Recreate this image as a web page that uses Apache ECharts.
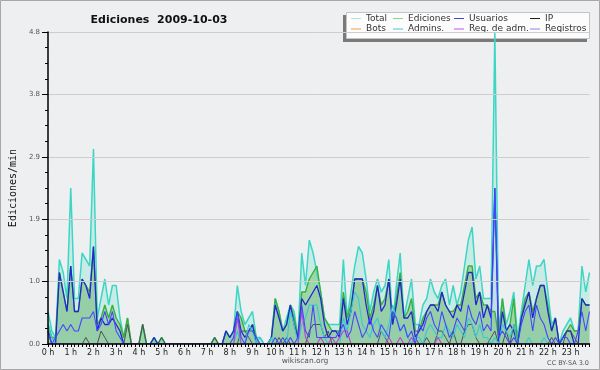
<!DOCTYPE html>
<html><head><meta charset="utf-8">
<script src="https://cdn.jsdelivr.net/npm/echarts@6/dist/echarts.min.js"></script>
<style>html,body{margin:0;padding:0;background:#eeeff0}#c{width:600px;height:370px}</style>
</head><body><div id="c"></div>
<script>
// Tick labels
const hourLabels = ['0 h','1 h','2 h','3 h','4 h','5 h','6 h','7 h','8 h','9 h','10 h','11 h',
  '12 h','13 h','14 h','15 h','16 h','17 h','18 h','19 h','20 h','21 h','22 h','23 h'];
const minuteSlots = ['00','10','20','30','40','50'];
const yTicks = { min: 0, max: 4.8, step: 0.96 };

// Edits per minute, 10-minute slots (12 slots per row = 2 hours)
const total = [
  0.5,0.2,0.1,1.3,1.1,0.7,2.4,0.7,0.7,1.4,1.3,1.2,
  3.0,0.4,0.7,1.0,0.6,0.9,0.9,0.4,0.1,0.4,0,0,
  0,0.3,0,0,0.1,0,0.1,0,0,0,0,0,
  0,0,0,0,0,0,0,0,0.1,0,0,0.2,
  0.1,0.2,0.9,0.5,0.3,0.4,0.5,0.1,0.1,0,0,0.1,
  0.7,0.5,0.2,0.4,0.6,0.5,0.1,1.4,0.9,1.6,1.4,1.1,
  0.8,0.4,0.3,0.3,0.3,0.3,1.3,0.4,0.8,1.2,1.5,1.4,
  1.0,0.5,0.8,1.0,0.8,0.9,1.3,0.3,0.9,1.4,0.4,0.7,
  1.0,0.3,0.3,0.6,0.7,1.0,0.8,0.7,0.9,1.0,0.6,0.9,
  0.6,0.8,1.2,1.6,1.8,1.0,1.2,0.7,0.7,0.7,4.8,0.2,
  0.7,0.3,0.5,0.8,0.1,0.5,0.9,1.3,0.9,1.2,1.2,1.3,
  0.8,0.3,0.4,0,0.2,0.3,0.4,0.2,0.2,1.2,0.8,1.1];
const ediciones = [
  0.3,0.1,0.1,1.1,0.8,0.5,1.2,0.5,0.5,1.0,0.9,0.8,
  1.5,0.3,0.4,0.6,0.4,0.6,0.4,0.3,0.1,0.4,0,0,
  0,0.3,0,0,0.1,0,0.1,0,0,0,0,0,
  0,0,0,0,0,0,0,0,0.1,0,0,0.2,
  0.1,0.2,0.5,0.4,0.2,0.2,0.3,0.1,0,0,0,0.1,
  0.7,0.5,0.2,0.3,0.6,0.4,0.1,0.8,0.8,1.0,1.1,1.2,
  0.8,0.4,0.3,0.2,0.2,0.2,0.8,0.4,0.6,1.0,1.0,1.0,
  0.8,0.4,0.6,0.9,0.6,0.7,1.0,0.3,0.7,1.1,0.4,0.5,
  0.7,0.2,0.2,0.4,0.5,0.6,0.6,0.6,0.8,0.6,0.5,0.5,
  0.6,0.6,0.9,1.2,1.2,0.7,0.8,0.6,0.6,0.5,0.5,0.1,
  0.7,0.2,0.3,0.7,0,0.4,0.7,0.8,0.5,0.7,0.9,0.9,
  0.6,0.2,0.4,0,0.1,0.2,0.3,0.2,0.2,0.7,0.6,0.6];
const usuarios = [
  0.2,0,0,1.1,0.8,0.5,1.2,0.5,0.5,1.0,0.9,0.7,
  1.5,0.2,0.4,0.3,0.3,0.4,0.3,0.2,0,0,0,0,
  0,0,0,0,0.1,0,0,0,0,0,0,0,
  0,0,0,0,0,0,0,0,0,0,0,0.2,
  0.1,0.2,0.5,0.2,0.1,0.2,0.3,0,0,0,0,0.1,
  0.6,0.4,0.2,0.3,0.6,0.3,0.1,0.7,0.6,0.7,0.8,0.9,
  0.7,0.3,0.1,0.2,0.2,0.1,0.7,0.3,0.5,1.0,1.0,1.0,
  0.6,0.3,0.5,0.9,0.5,0.6,1.0,0.3,0.6,1.0,0.4,0.4,
  0.5,0.1,0.2,0.3,0.5,0.6,0.6,0.5,0.8,0.6,0.5,0.4,
  0.6,0.5,0.8,1.1,1.1,0.6,0.8,0.4,0.6,0.4,2.4,0,
  0.5,0.2,0.3,0.2,0,0.4,0.6,0.8,0.4,0.7,0.9,0.9,
  0.5,0.2,0.4,0,0.1,0.2,0.2,0,0,0.7,0.6,0.6];
const ip = [
  0,0,0,0,0,0,0,0,0,0,0.1,0,
  0,0,0.2,0.1,0,0,0,0,0,0.3,0,0,
  0,0.3,0,0,0,0,0.1,0,0,0,0,0,
  0,0,0,0,0,0,0,0,0.1,0,0,0,
  0,0,0,0.2,0.2,0.1,0,0,0,0,0,0,
  0,0.1,0,0.1,0,0,0,0,0,0.2,0.3,0.3,
  0.3,0.1,0.2,0,0,0,0,0,0,0,0,0,
  0,0,0,0,0.2,0.1,0,0,0,0,0,0,
  0,0.1,0,0,0.1,0,0,0.2,0.2,0.1,0,0.2,
  0,0,0.2,0.3,0.3,0.1,0,0,0,0.1,0.2,0,
  0,0.2,0,0.3,0,0,0,0,0,0,0,0,
  0,0.1,0,0,0,0.2,0.2,0.1,0,0,0,0];
const bots = [
  0,0,0,0,0,0,0,0,0,0,0,0, 0,0,0,0,0,0,0,0,0,0,0,0,
  0,0,0,0,0,0,0,0,0,0,0,0, 0,0,0,0,0,0,0,0,0,0,0,0,
  0,0,0,0,0,0,0,0,0,0,0,0, 0,0,0,0,0,0,0,0,0,0,0,0,
  0,0,0,0,0,0,0,0,0,0,0,0, 0,0,0,0,0,0,0,0,0,0,0,0,
  0,0,0,0,0,0,0,0,0,0,0,0, 0,0,0,0,0,0,0,0,0,0,0,0,
  0,0,0,0,0,0,0,0,0,0,0,0, 0,0,0,0,0,0,0,0,0,0,0,0];
const admins = [
  0.3,0.1,0,0,0,0,0,0,0,0,0,0,
  0,0,0,0,0,0,0,0,0,0,0,0,
  0,0,0,0,0,0,0,0,0,0,0,0,
  0,0,0,0,0,0,0,0,0,0,0,0,
  0,0,0.2,0,0,0.3,0.2,0,0.1,0,0,0.1,
  0,0,0,0,0.5,0.3,0,0.3,0.4,0.6,0.6,0.6,
  0.3,0.1,0,0,0,0,0.4,0.2,0.5,0.8,0.7,0.3,
  0.2,0.1,0.3,0.4,0.2,0.1,0.3,0.6,0.4,0.2,0.3,0.1,
  0,0.1,0.1,0,0.2,0.3,0.2,0.1,0.1,0.3,0.2,0.1,
  0.3,0.2,0.1,0.4,0.3,0.1,0.3,0.1,0.1,0,0.1,0,
  0.3,0.2,0.1,0.3,0,0,0,0.1,0,0,0,0.1,
  0,0,0,0,0,0,0,0,0,0,0,0];
const regAdm = [
  0,0,0,0,0,0,0,0,0,0,0,0, 0,0,0,0,0,0,0,0,0,0,0,0,
  0,0,0,0,0,0,0,0,0,0,0,0, 0,0,0,0,0,0,0,0,0,0,0,0,
  0,0,0.4,0,0,0,0,0,0,0,0,0,
  0,0,0,0,0,0,0,0.5,0.1,0,0,0,
  0.1,0,0,0.1,0,0.1,0.2,0.2,0,0,0,0,
  0,0,0,0,0,0,0.1,0,0,0.1,0,0,
  0.1,0,0,0,0,0,0,0.1,0,0,0,0,
  0,0,0,0,0,0,0,0,0,0,0,0,
  0,0,0,0,0,0,0,0,0,0,0,0,
  0,0,0,0,0,0,0,0,0,0,0,0];
const registros = [
  0.2,0,0.1,0.2,0.3,0.2,0.3,0.2,0.2,0.4,0.4,0.4,
  0.5,0.2,0.3,0.5,0.3,0.5,0.2,0.1,0,0,0,0,
  0,0,0,0,0,0,0,0,0,0,0,0,
  0,0,0,0,0,0,0,0,0,0,0,0,
  0,0.1,0.5,0.1,0,0.2,0.2,0.1,0,0,0,0,
  0.1,0,0.1,0,0.1,0,0.1,0.6,0.2,0.1,0.6,0.1,
  0.1,0.1,0.1,0.1,0.1,0.2,0.3,0.1,0.2,0.5,0.3,0.1,
  0.2,0.4,0.2,0.1,0.3,0.2,0.1,0.5,0.4,0.2,0.3,0.1,
  0.2,0,0.3,0.2,0.4,0.5,0.3,0.2,0.5,0.3,0.1,0.2,
  0.4,0.3,0.2,0.6,0.4,0.3,0.5,0.2,0.3,0.2,2.4,0.1,
  0.2,0.1,0,0.1,0,0.3,0.5,0.6,0.2,0.6,0.4,0.3,
  0.1,0,0.1,0,0.1,0.1,0,0,0.2,0.5,0.2,0.5];

const times = [];
hourLabels.forEach((h, hi) => minuteSlots.forEach(m => times.push(hi + ':' + m)));

const FONT = 'DejaVu Sans';
const seriesDefs = [
  { name: 'Total', data: total, color: '#3cd6c6', area: 'rgba(172,232,220,0.55)', w: 1.5 },
  { name: 'Ediciones', data: ediciones, color: '#3cae3c', area: 'rgba(118,198,118,0.55)', w: 1.4 },
  { name: 'Usuarios', data: usuarios, color: '#2424d4', area: 'rgba(90,120,160,0.08)', w: 1.3 },
  { name: 'IP', data: ip, color: '#505050', w: 1.0 },
  { name: 'Bots', data: bots, color: '#f0a030', w: 1.0 },
  { name: 'Admins.', data: admins, color: '#34c8dc', w: 1.1 },
  { name: 'Reg. de adm.', data: regAdm, color: '#c040d0', w: 1.1 },
  { name: 'Registros', data: registros, color: '#4646ff', w: 1.1 }
];
const legendColors = {
  'Total': '#aee6e2', 'Ediciones': '#8fd28f', 'Usuarios': '#4242dc', 'IP': '#222222',
  'Bots': '#f2a040', 'Admins.': '#44c6da', 'Reg. de adm.': '#cc50dc', 'Registros': '#8686ee'
};
const legendCols = [
  { x: 351, names: ['Total', 'Bots'] },
  { x: 393, names: ['Ediciones', 'Admins.'] },
  { x: 454, names: ['Usuarios', 'Reg. de adm.'] },
  { x: 530, names: ['IP', 'Registros'] }
];

const chart = echarts.init(document.getElementById('c'));
chart.setOption({
  backgroundColor: '#eeeff0',
  animation: false,
  title: {
    text: 'Ediciones  2009-10-03', left: 154, top: 10, textAlign: 'center',
    textStyle: { fontFamily: FONT, fontSize: 11, fontWeight: 'bold', color: '#111' }
  },
  legend: legendCols.map(col => ({
    orient: 'vertical', left: col.x, top: 13.5, padding: 0, itemGap: 0.5,
    icon: 'rect', itemWidth: 10, itemHeight: 1, selectedMode: false, z: 6,
    textStyle: { fontFamily: FONT, fontSize: 9, color: '#333', lineHeight: 10 },
    data: col.names.map(n => ({ name: n, itemStyle: { color: legendColors[n] } }))
  })),
  grid: { left: 46, right: 10.5, top: 32, bottom: 26 },
  xAxis: {
    type: 'category', data: times, boundaryGap: false, z: 10,
    axisLine: { lineStyle: { color: '#000', width: 1.5 } },
    axisTick: { interval: 0, length: 3, lineStyle: { color: '#000' } },
    axisLabel: {
      interval: (i) => i % minuteSlots.length === 0,
      formatter: (v, i) => hourLabels[Math.floor(i / minuteSlots.length)],
      fontFamily: FONT, fontSize: 8, color: '#222', margin: 5
    },
    splitLine: { show: false }
  },
  yAxis: {
    type: 'value', min: yTicks.min, max: yTicks.max, interval: yTicks.step, z: 10,
    name: 'Ediciones/min', nameLocation: 'middle', nameGap: 30,
    nameTextStyle: { fontFamily: 'DejaVu Sans Mono', fontSize: 10, color: '#111' },
    axisLine: { show: true, lineStyle: { color: '#000', width: 1.5 } },
    axisTick: { show: true, length: 6, lineStyle: { color: '#000' } },
    minorTick: { show: true, splitNumber: 4, length: 3, lineStyle: { color: '#000' } },
    axisLabel: { formatter: v => v.toFixed(1), fontFamily: FONT, fontSize: 7, color: '#555', margin: 8 },
    splitLine: { lineStyle: { color: '#cdcdcd', width: 1 } }
  },
  graphic: [
    { type: 'rect', shape: { x: 0.5, y: 0.5, width: 599, height: 369 }, style: { fill: null, stroke: '#a8a8a8', lineWidth: 1 }, z: 20 },
    { type: 'rect', shape: { x: 343, y: 15, width: 244, height: 27 }, style: { fill: '#7a7a7a' }, z: 3 },
    { type: 'rect', shape: { x: 346.5, y: 12.5, width: 243, height: 26 }, style: { fill: '#fcfcfc', stroke: '#c4c4c4', lineWidth: 1 }, z: 3 },
    { type: 'text', x: 305, y: 361, style: { text: 'wikiscan.org', fontFamily: FONT, fontSize: 7.5, fill: '#555', textAlign: 'center', textVerticalAlign: 'middle' }, z: 5 },
    { type: 'text', x: 589, y: 363, style: { text: 'CC BY-SA 3.0', fontFamily: FONT, fontSize: 6.5, fill: '#555', textAlign: 'right', textVerticalAlign: 'middle' }, z: 5 }
  ],
  series: seriesDefs.map(s => ({
    type: 'line', name: s.name, data: s.data, showSymbol: false, symbol: 'none',
    color: s.color,
    lineStyle: { color: s.color, width: s.w },
    areaStyle: s.area ? { color: s.area, opacity: 1 } : undefined,
    emphasis: { disabled: true }
  }))
});
</script>
</body></html>
